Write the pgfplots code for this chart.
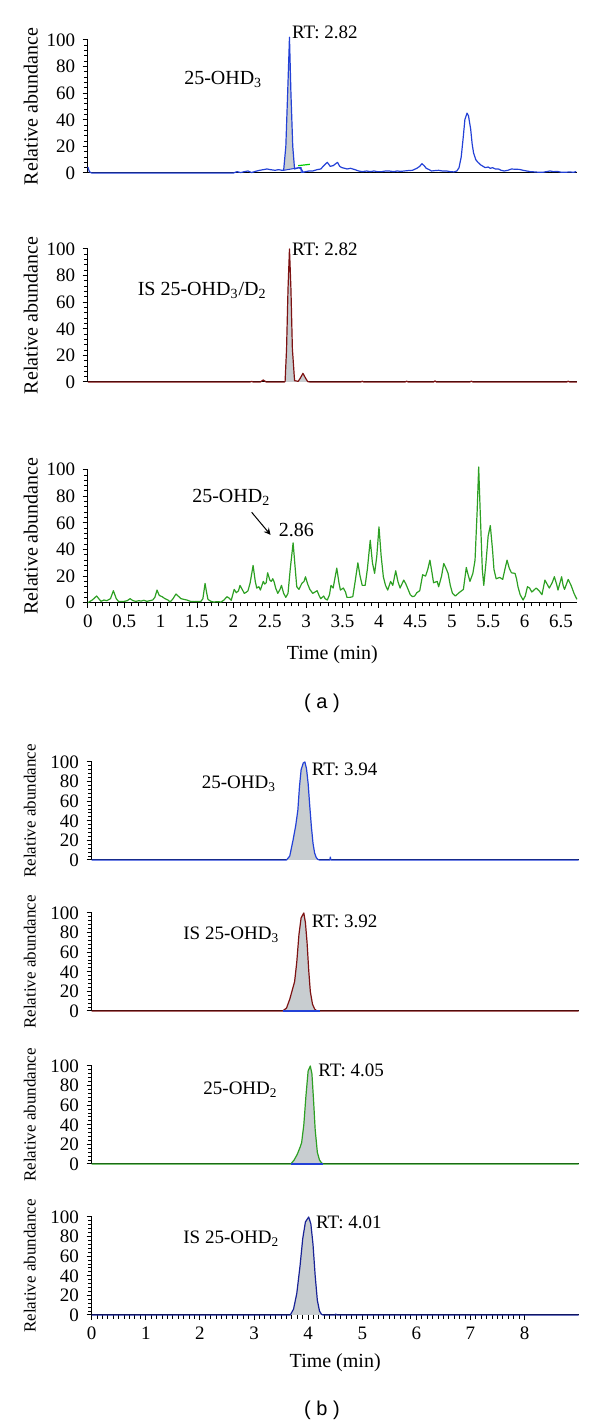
\documentclass[border=0pt]{standalone}
\usepackage{fontspec}
\setmainfont{Liberation Serif}
\newfontfamily\sansf{Liberation Sans}
\usepackage{pgfplots}
\pgfplotsset{compat=1.18}
\definecolor{cblue}{RGB}{35,65,215}
\definecolor{cred}{RGB}{125,18,18}
\definecolor{cgreen}{RGB}{45,160,35}
\definecolor{cnavy}{RGB}{25,35,150}
\definecolor{cfill}{RGB}{200,205,208}
\newcommand\fs{\fontsize{9.5}{11}\selectfont}
\newcommand\fl{\fontsize{10}{12}\selectfont}
\pgfplotsset{
  chrom/.style={scale only axis, anchor=south west,
    axis x line=bottom, axis y line=left,
    axis line style={-, black, line width=0.5pt},
    ymin=0, ymax=100, ytick={0,20,...,100}, minor y tick num=4,
    tick align=outside, major tick length=2.6pt, minor tick length=1.8pt,
    tick style={black, line width=0.5pt},
    clip=false,
    /pgf/number format/assume math mode=true,
    ticklabel style={font=\fs},
    yticklabel style={xshift=-0.3pt}},
  aax/.style={chrom, width=244.5pt, height=66.5pt, xmin=0, xmax=6.72},
  bax/.style={chrom, width=243.5pt, height=49pt, xmin=0, xmax=9},
  trace/.style={line width=0.6pt, line join=round}
}
\begin{document}
\begin{tikzpicture}
\path[use as bounding box] (0,0) rectangle (300pt,713.5pt);

% ---------------- (a) 1
\begin{axis}[aax, at={(43.95pt,627pt)}, xtick=\empty]
\addplot[fill=cfill, draw=none] coordinates {(2.69,2) (2.72,20) (2.745,60) (2.77,102) (2.79,60) (2.815,20) (2.84,3) (2.87,3.5) (2.9,4)} -- cycle;
\addplot[trace, cblue] coordinates {
(0,4.5) (0.02,1) (0.05,0) (2.0,0) (2.05,1) (2.1,0.3) (2.15,1) (2.2,1.5) (2.25,0.3) (2.3,1.2) (2.36,2) (2.41,2.5) (2.46,3) (2.51,2.5) (2.57,2) (2.62,2.5) (2.67,2)
(2.69,2) (2.72,20) (2.745,60) (2.77,102) (2.79,60) (2.815,20) (2.84,3) (2.87,3.5) (2.9,4) (2.93,3) (2.96,0.5)
(2.99,1) (3.04,1.5) (3.09,1.5) (3.15,2.5) (3.2,3) (3.25,6) (3.29,8) (3.33,5) (3.37,5.5) (3.43,8) (3.46,5) (3.49,4) (3.53,3.5) (3.56,3) (3.61,3.5) (3.67,2.5) (3.72,1.5) (3.77,1) (3.83,1.5) (3.88,1) (3.93,1.5) (3.98,1) (4.04,1) (4.09,1.5) (4.14,1.5) (4.2,1) (4.25,1.5) (4.3,1.2) (4.35,1.5) (4.4,1.8) (4.46,2) (4.52,3.5) (4.56,5) (4.59,7) (4.62,5.5) (4.65,3.5) (4.69,2.5) (4.72,1.5) (4.77,1.8) (4.82,2) (4.87,1.5) (4.93,1.5) (4.98,1) (5.03,0.8) (5.07,1.5) (5.1,4) (5.13,12) (5.16,28) (5.18,40) (5.21,45) (5.23,43) (5.26,33) (5.28,22) (5.3,15) (5.33,10) (5.36,8) (5.4,6) (5.43,5) (5.46,4) (5.5,4.5) (5.53,3.5) (5.56,4) (5.6,3) (5.64,3) (5.68,2) (5.72,1.5) (5.77,2) (5.82,3) (5.87,2.8) (5.93,2.7) (5.98,2) (6.03,1.5) (6.08,1) (6.14,0.8) (6.2,0.5) (6.25,0.5) (6.3,1) (6.35,1.5) (6.4,1) (6.45,1.2) (6.5,0.6) (6.56,0.5) (6.62,0.8) (6.67,0.5) (6.71,1)};
\addplot[cblue, line width=0.5pt] coordinates {(2.69,2) (2.9,4) (2.93,4) (2.93,0.5) (2.96,0.5)};
\addplot[green!80!black, line width=0.6pt] coordinates {(2.89,5.5) (3.05,6.5)};
\node[font=\fl] at (axis cs:1.86,70) {25-OHD\textsubscript{3}};
\node[font=\fs, anchor=west, inner sep=0pt] at (axis cs:2.80,106) {RT: 2.82};
\node[font=\fl, rotate=90] at (axis description cs:-0.117,0.5) {Relative abundance};
\end{axis}

% ---------------- (a) 2
\begin{axis}[aax, at={(43.95pt,522.5pt)}, xtick=\empty]
\addplot[fill=cfill, draw=none] coordinates {(2.71,0.5) (2.73,25) (2.75,70) (2.77,100) (2.79,70) (2.81,25) (2.84,1) (2.89,0.5) (2.92,3) (2.955,6.5) (2.99,3) (3.02,0.3)} \closedcycle;
\addplot[trace, cred] coordinates {
(0,0) (2.23,0) (2.25,0.5) (2.27,0) (2.37,0) (2.41,1.5) (2.45,0) (2.7,0) (2.71,0.5) (2.73,25) (2.75,70) (2.77,100) (2.79,70) (2.81,25) (2.84,1) (2.89,0.5) (2.92,3) (2.955,6.5) (2.99,3) (3.02,0.3) (3.05,0)
(3.75,0) (3.77,0.6) (3.79,0) (4.36,0) (4.38,0.6) (4.4,0) (4.75,0) (4.77,0.8) (4.79,0) (5.25,0) (5.27,0.6) (5.29,0) (6.58,0) (6.6,0.6) (6.62,0) (6.72,0)};
\node[font=\fl] at (axis cs:1.57,69) {IS 25-OHD\textsubscript{3}/D\textsubscript{2}};
\node[font=\fs, anchor=west, inner sep=0pt] at (axis cs:2.80,100) {RT: 2.82};
\node[font=\fl, rotate=90] at (axis description cs:-0.117,0.5) {Relative abundance};
\end{axis}

% ---------------- (a) 3
\begin{axis}[aax, at={(43.95pt,412.15pt)}, xtick={0,0.5,...,6.5}, minor x tick num=4]
\addplot[trace, cgreen] coordinates {
(0,0) (0.06,2) (0.12,5) (0.18,1) (0.22,2) (0.26,1.5) (0.31,3) (0.35,9) (0.39,3) (0.42,1) (0.5,1) (0.54,1.5) (0.58,3) (0.62,1.5) (0.66,1) (0.7,1.5) (0.73,1.2) (0.77,1.8) (0.81,1) (0.85,1.5) (0.89,2) (0.92,4) (0.95,9.5) (0.98,5.5) (1.02,4.5) (1.06,3) (1.10,2) (1.13,0.5) (1.17,3) (1.21,6.5) (1.24,5) (1.28,3) (1.32,2.5) (1.36,2) (1.41,1) (1.47,0.8) (1.51,1) (1.55,0.8) (1.58,3) (1.61,14.5) (1.63,8) (1.65,2.5) (1.69,1) (1.73,0.5) (1.78,0.8) (1.83,0.5) (1.87,2) (1.91,4.5) (1.94,3.5) (1.97,1.8) (2.01,10) (2.04,7.5) (2.07,9) (2.09,13) (2.12,10) (2.15,7) (2.18,8) (2.2,9) (2.23,15) (2.27,28) (2.30,16) (2.32,11) (2.35,12) (2.37,9.5) (2.41,16) (2.43,14) (2.45,15) (2.47,22.5) (2.5,17) (2.52,16) (2.54,18) (2.56,15.5) (2.58,11) (2.61,7) (2.64,10) (2.66,13) (2.69,7) (2.72,4) (2.75,7) (2.78,25) (2.82,45) (2.85,25) (2.87,12) (2.9,10) (2.94,14.5) (2.97,16) (2.99,19.5) (3.02,14) (3.05,10) (3.09,7) (3.12,8) (3.15,9) (3.18,5) (3.2,3) (3.24,5) (3.26,3) (3.29,2) (3.32,6) (3.34,13) (3.37,11) (3.42,26) (3.45,15) (3.47,9.5) (3.51,11) (3.54,8) (3.56,4) (3.6,4) (3.64,4.5) (3.67,15) (3.71,30) (3.74,20) (3.77,13) (3.81,13) (3.84,25) (3.88,47) (3.91,30) (3.94,22) (3.97,35) (4.0,57) (4.03,35) (4.06,19.5) (4.09,13) (4.12,9.5) (4.16,16) (4.19,13) (4.23,24) (4.26,16) (4.29,11) (4.34,17) (4.37,14) (4.40,10) (4.43,6) (4.46,4.5) (4.49,5) (4.52,7.5) (4.56,9) (4.6,21) (4.64,20) (4.67,25) (4.70,32) (4.73,22) (4.75,15) (4.8,16) (4.82,12) (4.86,20) (4.89,29.5) (4.92,26) (4.95,22) (4.98,13) (5.01,7) (5.05,5) (5.10,7.5) (5.16,10) (5.2,26.5) (5.22,22) (5.25,16) (5.29,22) (5.32,32) (5.35,70) (5.37,102) (5.39,70) (5.42,25) (5.44,13) (5.47,30) (5.5,50) (5.53,58) (5.56,40) (5.58,25) (5.61,18) (5.66,19) (5.7,17.5) (5.73,25) (5.76,32) (5.79,26) (5.82,22.5) (5.87,22) (5.89,18) (5.91,12) (5.94,6) (5.98,2) (6.01,5) (6.04,12) (6.07,11) (6.1,8) (6.16,11) (6.2,9) (6.24,6) (6.28,17) (6.31,14) (6.34,11) (6.38,15) (6.41,19.5) (6.44,14) (6.46,9.5) (6.51,19.5) (6.53,13) (6.55,10) (6.6,17.5) (6.64,13) (6.68,7) (6.72,2.5)};
\node[font=\fl] at (axis cs:1.97,79) {25-OHD\textsubscript{2}};
\draw[->, >=stealth, line width=0.5pt] (axis cs:2.25,68) -- (axis cs:2.51,51);
\node[font=\fl, anchor=west, inner sep=0pt] at (axis cs:2.62,54.5) {2.86};
\node[font=\fl, rotate=90] at (axis description cs:-0.117,0.5) {Relative abundance};
\node[font=\fl] at (axis description cs:0.5,-0.39) {Time (min)};
\end{axis}

\node[font=\sansf\fontsize{10}{12}\selectfont] at (161pt,362pt) {( a )};

% ---------------- (b) 1
\begin{axis}[bax, at={(45.85pt,283.5pt)}, xtick=\empty]
\addplot[fill=cfill, draw=none] coordinates {(3.60,0) (3.66,4) (3.72,20) (3.77,35) (3.81,51) (3.84,75) (3.87,92) (3.91,99) (3.94,100) (3.97,93) (4.0,78) (4.03,55) (4.06,34) (4.09,17) (4.12,7) (4.15,2.5) (4.18,0.5) (4.21,0)} \closedcycle;
\addplot[trace, cblue] coordinates {(0,0) (3.60,0) (3.66,4) (3.72,20) (3.77,35) (3.81,51) (3.84,75) (3.87,92) (3.91,99) (3.94,100) (3.97,93) (4.0,78) (4.03,55) (4.06,34) (4.09,17) (4.12,7) (4.15,2.5) (4.18,0.5) (4.21,0) (4.40,0) (4.41,3) (4.42,0) (9,0)};
\node[font=\fs] at (axis cs:2.72,78) {25-OHD\textsubscript{3}};
\node[font=\fs, anchor=west, inner sep=0pt] at (axis cs:4.06,92.5) {RT: 3.94};
\node[font=\fontsize{8.5}{10}\selectfont, rotate=90] at (axis description cs:-0.127,0.5) {Relative abundance};
\end{axis}

% ---------------- (b) 2
\begin{axis}[bax, at={(45.85pt,208pt)}, xtick=\empty]
\addplot[fill=cfill, draw=none] coordinates {(3.53,0) (3.6,3) (3.66,12) (3.71,22) (3.75,30) (3.79,50) (3.83,78) (3.87,95) (3.92,100) (3.95,90) (3.98,70) (4.01,42) (4.04,20) (4.08,7) (4.12,2) (4.16,0)} \closedcycle;
\addplot[trace, cred] coordinates {(0,0) (3.53,0) (3.6,3) (3.66,12) (3.71,22) (3.75,30) (3.79,50) (3.83,78) (3.87,95) (3.92,100) (3.95,90) (3.98,70) (4.01,42) (4.04,20) (4.08,7) (4.12,2) (4.16,0) (9,0)};
\addplot[cblue, line width=0.6pt] coordinates {(3.53,0) (4.2,0) (4.2,1)};
\node[font=\fs] at (axis cs:2.58,78) {IS 25-OHD\textsubscript{3}};
\node[font=\fs, anchor=west, inner sep=0pt] at (axis cs:4.06,91) {RT: 3.92};
\node[font=\fontsize{8.5}{10}\selectfont, rotate=90] at (axis description cs:-0.127,0.5) {Relative abundance};
\end{axis}

% ---------------- (b) 3
\begin{axis}[bax, at={(45.85pt,131.5pt)}, xtick=\empty]
\addplot[fill=cfill, draw=none] coordinates {(3.68,0) (3.74,4) (3.8,10) (3.85,17) (3.88,22) (3.92,40) (3.96,70) (4.0,95) (4.04,100) (4.07,92) (4.1,65) (4.13,35) (4.17,12) (4.21,4) (4.25,1) (4.28,0)} \closedcycle;
\addplot[trace, cgreen] coordinates {(0,0) (3.68,0) (3.74,4) (3.8,10) (3.85,17) (3.88,22) (3.92,40) (3.96,70) (4.0,95) (4.04,100) (4.07,92) (4.1,65) (4.13,35) (4.17,12) (4.21,4) (4.25,1) (4.28,0) (9,0)};
\addplot[cblue, line width=0.6pt] coordinates {(3.68,0) (4.27,0)};
\node[font=\fs] at (axis cs:2.75,75.5) {25-OHD\textsubscript{2}};
\node[font=\fs, anchor=west, inner sep=0pt] at (axis cs:4.18,96) {RT: 4.05};
\node[font=\fontsize{8.5}{10}\selectfont, rotate=90] at (axis description cs:-0.127,0.5) {Relative abundance};
\end{axis}

% ---------------- (b) 4
\begin{axis}[bax, at={(45.85pt,56pt)}, xtick={0,1,...,8}, minor x tick num=9]
\addplot[fill=cfill, draw=none] coordinates {(3.67,0) (3.73,6) (3.79,22) (3.85,50) (3.9,78) (3.95,95) (4.01,100) (4.05,93) (4.09,72) (4.13,40) (4.17,15) (4.21,4) (4.25,0.5) (4.28,0)} \closedcycle;
\addplot[trace, cnavy] coordinates {(0,0) (3.67,0) (3.73,6) (3.79,22) (3.85,50) (3.9,78) (3.95,95) (4.01,100) (4.05,93) (4.09,72) (4.13,40) (4.17,15) (4.21,4) (4.25,0.5) (4.28,0) (4.49,0) (4.51,1) (4.53,0) (9,0)};
\node[font=\fs] at (axis cs:2.58,78) {IS 25-OHD\textsubscript{2}};
\node[font=\fs, anchor=west, inner sep=0pt] at (axis cs:4.14,95) {RT: 4.01};
\node[font=\fontsize{8.5}{10}\selectfont, rotate=90] at (axis description cs:-0.127,0.5) {Relative abundance};
\node[font=\fl] at (axis description cs:0.5,-0.49) {Time (min)};
\end{axis}

\node[font=\sansf\fontsize{10}{12}\selectfont] at (161pt,8.5pt) {( b )};
\end{tikzpicture}
\end{document}
